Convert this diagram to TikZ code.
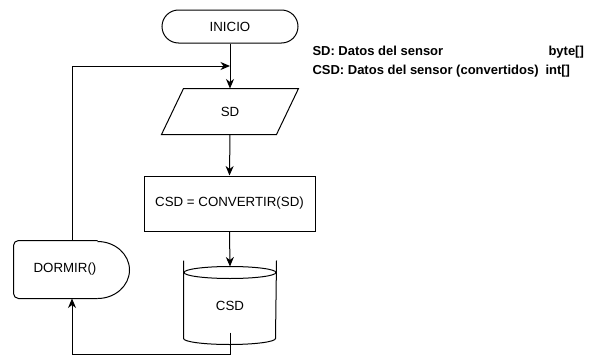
\documentclass[tikz,border=0pt]{standalone}
\usepackage{fontspec}
\setmainfont{Liberation Sans}
\usetikzlibrary{arrows.meta,calc}
\begin{document}
\begin{tikzpicture}[x=1pt,y=-1pt,
  line width=1pt,
  every node/.style={font=\fontsize{13.3}{15}\selectfont, inner sep=0pt},
  flow/.style={-{Stealth[length=9.5pt,width=8pt,inset=3pt]}},
  legendtext/.style={font=\bfseries\fontsize{13}{15}\selectfont, anchor=base west}]
% canvas
\fill[white] (0,0) rectangle (589,356);
\useasboundingbox (0,0) rectangle (589,356);

% start terminal
\node[draw, rounded corners=16.5pt, minimum width=136pt, minimum height=33pt] (inicio) at (230,26.5) {INICIO};

% input / output: sensor data
\node[minimum width=136pt, minimum height=45pt] (sd) at (230,111.5) {SD};
\draw ([xshift=22pt]sd.north west) -- (sd.north east)
      -- ([xshift=-22pt]sd.south east) -- (sd.south west) -- cycle;

% process
\node[draw, minimum width=171pt, minimum height=55pt] (conv) at (229.5,203.5) {CSD = CONVERTIR(SD)};

% stored data (cylinder)
\node[minimum width=92pt, minimum height=65pt] (csd) at (230,299.5) {};
\node at (230,305.5) {CSD};
\draw ([yshift=6pt]csd.north west) -- ([yshift=-6pt]csd.south west)
      arc[start angle=180, end angle=360, x radius=46pt, y radius=6pt]
      -- ([yshift=6pt]csd.north east);
\draw ($(csd.north)+(0,6)$) ellipse[x radius=46pt, y radius=6pt];

% delay
\node[minimum width=115pt, minimum height=57pt] (dormir) at (71.5,269.5) {};
\node at (65,269.5) {DORMIR()};
\draw[rounded corners=5pt] ([xshift=-32pt]dormir.north east) -- (dormir.north west)
      -- (dormir.south west) -- ([xshift=-32pt]dormir.south east);
\draw ([xshift=-32pt]dormir.south east)
      arc[start angle=-90, end angle=90, x radius=32pt, y radius=28.5pt];

% connectors
\coordinate (join) at (230,66);
\coordinate (loopbottom) at (72,354);
\draw (inicio.south) -- (join);
\draw[flow] (join) -- (sd.north);
\draw[flow] (sd.south) -- (conv.north);
\draw[flow] (conv.south) -- (csd.north);
\draw[flow] (csd.south) |- (loopbottom) -- ([xshift=0.5pt]dormir.south);
\draw[flow] ([xshift=0.5pt]dormir.north) |- (join);

% legend
\node[legendtext] (l1a) at (312,55) {SD: Datos del sensor};
\node[legendtext] (l1b) at (548,55) {byte[]};
\node[legendtext] (l2a) at (312,74) {CSD: Datos del sensor (convertidos)};
\node[legendtext] (l2b) at (545,74) {int[]};
\end{tikzpicture}
\end{document}
